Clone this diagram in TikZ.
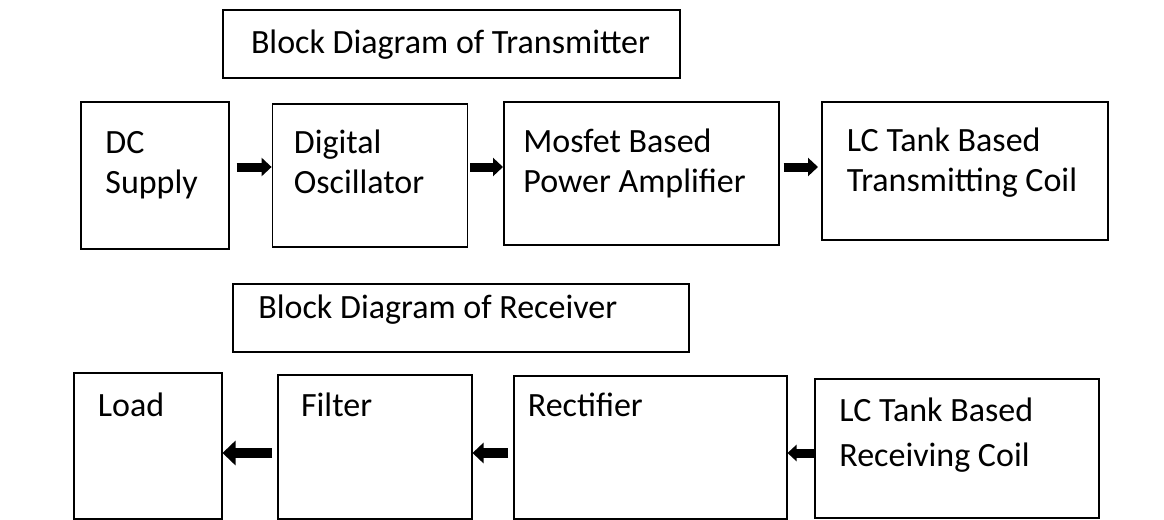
\documentclass[tikz,border=0pt]{standalone}
\usepackage{fontspec}
\setmainfont{Carlito}
\usetikzlibrary{arrows.meta,calc}
\tikzset{
  blk/.style={draw, line width=0.75pt, inner sep=0pt, anchor=north west},
  txt/.style={anchor=base west, inner sep=0pt, align=left,
    font=\fontsize{17}{20}\selectfont},
  arr/.style={line width=4.5pt, -{Triangle[length=5pt, width=9pt]}},
}

\begin{document}
\begin{tikzpicture}[x=0.5pt, y=-0.5pt]
			%%%%% START %%%%%
			\useasboundingbox (0, 0) rectangle (1164, 520);
			
			% transmitter (two-line texts sit on their last baseline)
			\node[blk, minimum width=228.5pt, minimum height=34pt] (txtitle) at (222, 9) {};
			\node[txt] (txtitle-t) at (250.6, 53) {Block Diagram of Transmitter};
			
			\node[blk, minimum width=74pt, minimum height=73.5pt] (dc) at (80, 101) {};
			\node[txt] (dc-t) at (105, 193) {DC\\Supply};
			\node[blk, minimum width=97.5pt, minimum height=71.5pt] (osc) at (271.6, 103) {};
			\node[txt] (osc-t) at (293.5, 193) {Digital\\Oscillator};
			\node[blk, minimum width=137.5pt, minimum height=71.5pt] (amp) at (503, 101) {};
			\node[txt] (amp-t) at (523, 192) {Mosfet Based\\Power Amplifier};
			\node[blk, minimum width=143pt, minimum height=69pt] (txcoil) at (821, 101) {};
			\node[txt] (txcoil-t) at (846.4, 191) {LC Tank Based\\Transmitting Coil};
			
			\coordinate (row1) at (0, 167);
			\draw[arr] ($(dc.east |- row1)+(7, 0)$) -- (osc.west |- row1);
			\draw[arr] ($(osc.east |- row1)+(2, 0)$) -- (amp.west |- row1);
			\draw[arr] ($(amp.east |- row1)+(4, 0)$) -- ($(txcoil.west |- row1)+(-3, 0)$);
			
			% receiver
			\node[blk, minimum width=228pt, minimum height=34pt] (rxtitle) at (232, 283) {};
			\node[txt] (rxtitle-t) at (258, 318) {Block Diagram of Receiver};
			
			\node[blk, minimum width=74pt, minimum height=73pt] (load) at (73, 372) {};
			\node[txt] (load-t) at (97.5, 416) {Load};
			\node[blk, minimum width=97pt, minimum height=72pt] (filt) at (277, 374) {};
			\node[txt] (filt-t) at (300.7, 416) {Filter};
			\node[blk, minimum width=136.5pt, minimum height=71.5pt] (rect) at (513, 375) {};
			\node[txt] (rect-t) at (527.5, 416) {Rectifier};
			\node[blk, minimum width=142pt, minimum height=69.5pt] (rxcoil) at (814, 378) {};
			\node[txt, font=\fontsize{17}{22.5}\selectfont] (rxcoil-t) at (839, 466) {LC Tank Based\\Receiving Coil};
			
			\coordinate (row2) at (0, 453);
			\draw[arr, line width=5pt, -{Triangle[length=6.5pt, width=12pt]}] ($(filt.west |- row2)+(-5, 0)$) -- (load.east |- row2);
			\draw[arr, line width=5pt, -{Triangle[length=5.5pt, width=10pt]}] ($(rect.west |- row2)+(-5, 0)$) -- (filt.east |- row2);
			\draw[arr, -{Triangle[length=4.5pt, width=8pt]}] ($(rxcoil.west |- row2)+(2, 0)$) -- (rect.east |- row2);
			%%%%% END %%%%%
\end{tikzpicture}
\end{document}
